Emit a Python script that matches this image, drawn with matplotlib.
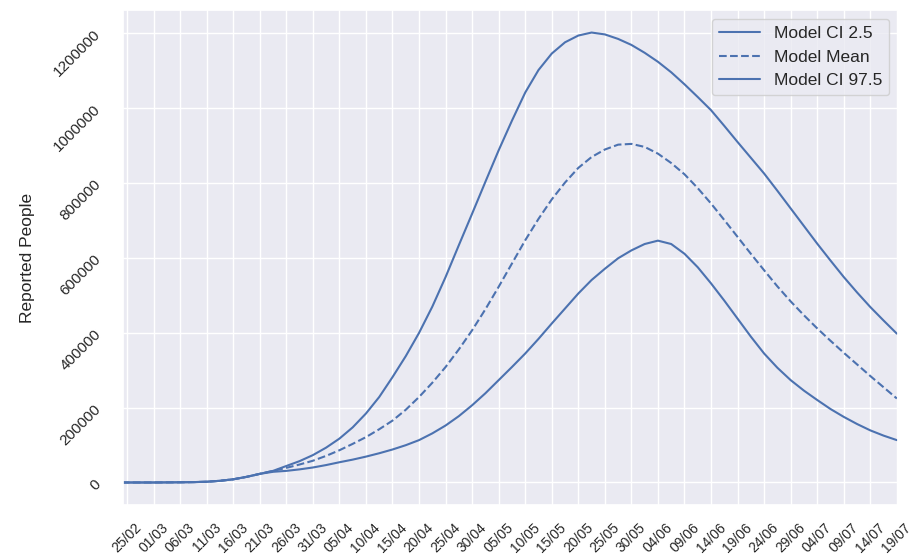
#!/usr/bin/python3
import matplotlib
matplotlib.use("Agg")
import matplotlib.pyplot as plt
import matplotlib.dates as mdates
import pandas as pd
import seaborn as sns

# model output
# days counted from 25/02/2020
days = [-1, 0, 5, 10, 12.5, 15, 17.5, 20, 22.5, 25, 27.5,
        30, 32.5, 35, 37.5, 40, 42.5, 45, 47.5, 50, 52.5,
        55, 57.5, 60, 62.5, 65, 67.5, 70, 72.5, 75, 77.5,
        80, 82.5, 85, 87.5, 90, 92.5, 95, 97.5, 100, 102.5,
        105, 107.5, 110, 112.5, 115, 117.5, 120, 122.5, 125, 127.5,
        130, 132.5, 135, 137.5, 140, 142.5, 145]

ci_low = [0, 0, 0, 500, 1000, 2000, 4500, 8500, 15000, 23000, 28500,
          31000, 35000, 40000, 46500, 54000, 61000, 69000, 78000, 88000, 99500,
          113000, 131000, 152000, 177000, 206000, 238000, 273000, 308000, 344000, 383000,
          424000, 464000, 504000, 540000, 570000, 598000, 619000, 636000, 645000, 636000,
          610000, 574000, 531000, 485000, 437000, 389000, 344000, 306000, 273000, 245000,
          220000, 196000, 175000, 156000, 139000, 125000, 113000]

mean = [0, 0, 0, 500, 1000, 2000, 4500, 8500, 15000, 23000, 31000,
        39000, 48000, 58000, 71000, 86000, 103000, 121000, 142000, 165000, 194000,
        228000, 266000, 308000, 355000, 406000, 462000, 522000, 584000, 646000, 703000,
        755000, 800000, 839000, 868000, 888000, 901000, 903000, 895000, 877000, 852000,
        822000, 785000, 744000, 700000, 655000, 610000, 566000, 523000, 483000, 446000,
        411000, 378000, 346000, 315000, 284000, 254000, 224000]

ci_high = [0, 0, 0, 500, 1000, 2000, 4500, 8500, 15000, 23000, 31000,
           44000, 57000, 73000, 93000, 117000, 147000, 184000, 228000, 281000, 337000,
           399000, 469000, 548000, 633000, 717000, 802000, 886000, 965000, 1040000, 1100000,
           1144000, 1174000, 1192000, 1200000, 1195000, 1183000, 1167000, 1146000, 1122000, 1094000,
           1062000, 1028000, 993000, 951000, 908000, 866000, 824000, 778000, 731000, 684000,
           637000, 592000, 548000, 507000, 468000, 432000, 397000]

start = pd.Timestamp("2020-02-25")
tick_end = "2020-07-19"


def model_plot():
    sns.set_theme(style="darkgrid")
    plt.rcParams["font.family"] = ["Liberation Sans", "DejaVu Sans"]

    x = start + pd.to_timedelta(days, unit="D")
    color = "#4C72B0"

    fig, ax = plt.subplots(figsize=(9.1, 5.58), dpi=100)
    fig.subplots_adjust(left=0.135, right=0.987, top=0.982, bottom=0.095)

    ax.plot(x, ci_low, color=color, lw=1.5, label="Model CI 2.5")
    ax.plot(x, mean, color=color, lw=1.5, ls="--", label="Model Mean")
    ax.plot(x, ci_high, color=color, lw=1.5, label="Model CI 97.5")

    ax.set_xlim(start - pd.Timedelta(hours=19), pd.Timestamp("2020-07-19 06:00"))
    ax.set_xticks(pd.date_range(start, tick_end, freq="5D"))
    ax.xaxis.set_major_formatter(mdates.DateFormatter("%d/%m"))
    ax.ticklabel_format(axis="y", style="plain")
    ax.tick_params(axis="x", labelsize=10, rotation=45, pad=5)
    ax.tick_params(axis="y", labelsize=11, rotation=45, pad=8)

    ax.set_ylabel("Reported People", fontsize=12.5, labelpad=12)
    ax.legend(loc="upper right", fontsize=12.5, handlelength=2.4, handletextpad=0.8)

    fig.savefig("out.png", dpi=100)


def main():
    model_plot()


if __name__ == "__main__":
    main()
